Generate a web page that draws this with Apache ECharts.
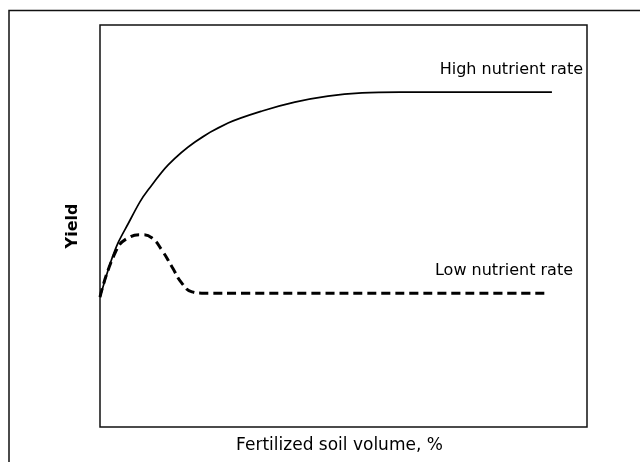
<!DOCTYPE html>
<html>
<head>
<meta charset="utf-8">
<script src="https://cdn.jsdelivr.net/npm/echarts@6/dist/echarts.min.js"></script>
<style>
  html, body { margin: 0; padding: 0; background: #fff; }
  #chart { width: 640px; height: 462px; }
</style>
</head>
<body>
<div id="chart"></div>
<script>
// fertilized soil volume (% of axis) and yield (relative units)
const highX = [0, 2.05, 3.7, 5.75, 8.2, 9.9, 14.0, 19.5, 26.3, 33.3, 40.0, 46.8, 53.8, 61.6, 92.8];
const highY = [32.3, 40.5, 45.8, 50.5, 56.0, 59.0, 65.2, 70.9, 75.6, 78.6, 80.8, 82.3, 83.1, 83.3, 83.3];

const lowX = [0, 3.1, 5.7, 8.6, 10.7, 12.7, 14.8, 16.8, 18.9, 20.9, 30.0, 91.8];
const lowY = [32.3, 43.3, 47.0, 47.8, 47.0, 44.0, 39.8, 35.8, 33.6, 33.3, 33.3, 33.3];

const seriesNames = ['High nutrient rate', 'Low nutrient rate'];
const xName = 'Fertilized soil volume, %';
const yName = 'Yield';

const pairs = (xs, ys) => xs.map((x, i) => [x, ys[i]]);

const chart = echarts.init(document.getElementById('chart'));
chart.setOption({
  animation: false,
  backgroundColor: '#fff',
  textStyle: { fontFamily: 'DejaVu Sans' },
  grid: {
    left: 100, right: 53, top: 25, bottom: 35,
    outerBoundsMode: 'none', containLabel: false,
    show: true, borderColor: '#111', borderWidth: 1.5
  },
  xAxis: {
    type: 'value', min: 0, max: 100,
    name: xName, nameLocation: 'middle', nameGap: 10,
    nameTextStyle: { fontSize: 17, color: '#000', padding: [0, 8, 0, 0] },
    axisLine: { show: false }, axisTick: { show: false },
    axisLabel: { show: false }, splitLine: { show: false }
  },
  yAxis: {
    type: 'value', min: 0, max: 100,
    name: yName, nameLocation: 'middle', nameGap: 19,
    nameTextStyle: { fontSize: 16, fontWeight: 'bold', color: '#000' },
    axisLine: { show: false }, axisTick: { show: false },
    axisLabel: { show: false }, splitLine: { show: false }
  },
  series: [
    {
      name: seriesNames[0], type: 'line', data: pairs(highX, highY),
      smooth: 0.3, showSymbol: false,
      lineStyle: { color: '#000', width: 1.7 }
    },
    {
      name: seriesNames[1], type: 'line', data: pairs(lowX, lowY),
      smooth: 0.5, showSymbol: false,
      lineStyle: { color: '#000', width: 3, type: [9, 5], cap: 'butt' }
    }
  ],
  graphic: [
    {
      type: 'rect', left: 6.5, top: 8, silent: true,
      shape: { width: 700, height: 500 },
      style: { fill: 'none', stroke: '#111', lineWidth: 1.5 }
    },
    {
      type: 'text', right: 57, top: 62,
      style: { text: seriesNames[0], font: '16px "DejaVu Sans"', fill: '#000' }
    },
    {
      type: 'text', right: 67, top: 263,
      style: { text: seriesNames[1], font: '16px "DejaVu Sans"', fill: '#000' }
    }
  ]
});
</script>
</body>
</html>
